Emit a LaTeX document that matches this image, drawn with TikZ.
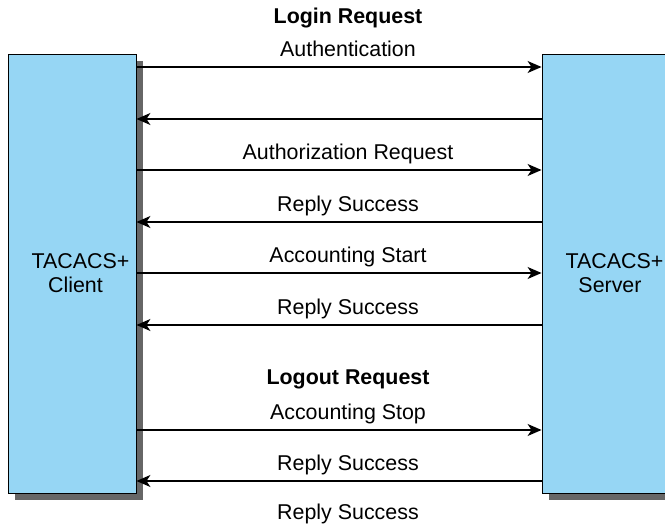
\documentclass[tikz,border=0pt]{standalone}
\usepackage{fontspec}
\setmainfont{Liberation Sans}
\usetikzlibrary{arrows.meta, positioning, shadows}

\definecolor{hostblue}{RGB}{150,214,244}
\definecolor{shadowgray}{RGB}{102,102,102}

\begin{document}
\begin{tikzpicture}[
    x=1pt, y=-1pt,
    every node/.style={font=\fontsize{21.4}{24}\selectfont},
    host/.style={draw=black, line width=0.9pt, fill=hostblue, rectangle, minimum height=439pt,
        drop shadow={shadow xshift=7pt, shadow yshift=-7pt, fill=shadowgray, opacity=1}},
    hostname/.style={align=center, inner sep=0pt},
    msg/.style={line width=1.4pt, -{Stealth[length=14pt, width=12pt, inset=4pt]}},
    lbl/.style={above=10pt, xshift=9pt, inner sep=0pt, text depth=0pt},
    title/.style={anchor=base, inner sep=0pt, font=\fontsize{21.4}{24}\selectfont\bfseries}
]
\path [use as bounding box, clip] (0,0) rectangle (665,529);

\node (client) [host, minimum width=128pt] at (72,273.5) {};
\node (server) [host, minimum width=148pt] at (616,273.5) {};
\node (clientname) [hostname] at (80.5,273.5) {TACACS+\\Client\hspace*{10pt}};
\node (servername) [hostname] at (614.5,273.5) {TACACS+\\Server\hspace*{9pt}};

\node (login) [title] at (348,24) {Login Request};
\node (logout) [title] at (348,385) {Logout Request};

\draw [msg] (client.east |- 0,67) -- node[lbl] {Authentication} (server.west |- 0,67);
\draw [msg] (server.west |- 0,119) -- (client.east |- 0,119);
\draw [msg] (client.east |- 0,170) -- node[lbl] {Authorization Request} (server.west |- 0,170);
\draw [msg] (server.west |- 0,222) -- node[lbl] {Reply Success} (client.east |- 0,222);
\draw [msg] (client.east |- 0,273) -- node[lbl] {Accounting Start} (server.west |- 0,273);
\draw [msg] (server.west |- 0,325) -- node[lbl] {Reply Success} (client.east |- 0,325);
\draw [msg] (client.east |- 0,430) -- node[lbl] {Accounting Stop} (server.west |- 0,430);
\draw [msg] (server.west |- 0,481) -- node[lbl] {Reply Success} (client.east |- 0,481);

\node (reply) [anchor=base, inner sep=0pt] at (348,520) {Reply Success};

\end{tikzpicture}
\end{document}
